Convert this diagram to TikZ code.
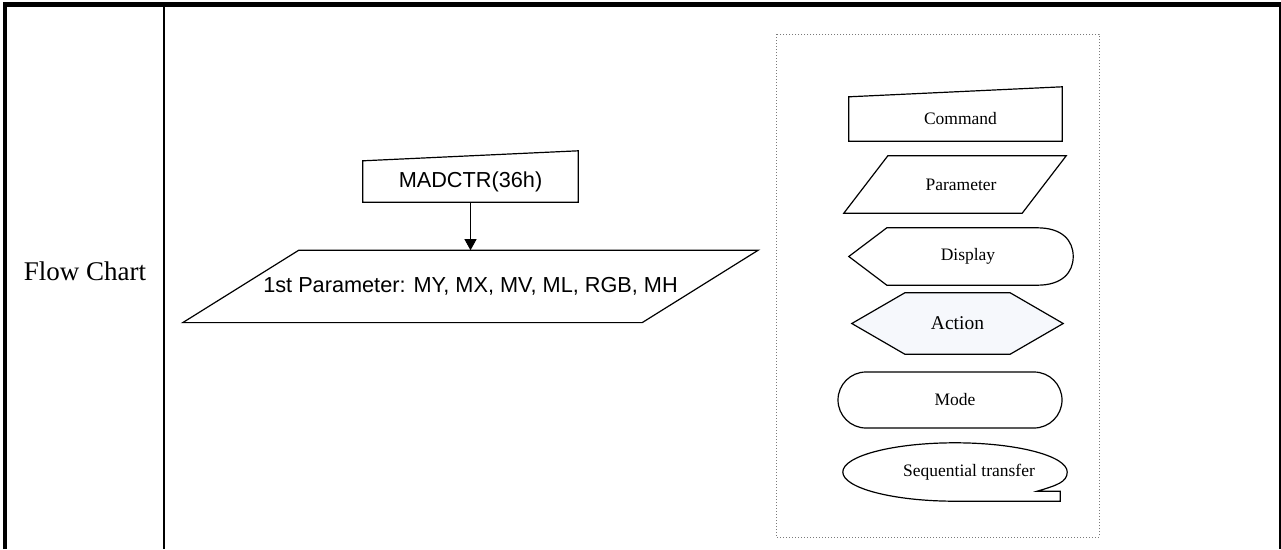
\documentclass[tikz,border=0pt]{standalone}
\usepackage{fontspec}
\setmainfont{Liberation Serif}
\newfontfamily\arialfont{Liberation Sans}
\usetikzlibrary{arrows.meta,positioning,calc,backgrounds}
\definecolor{ChartDots}{HTML}{7A7A7A}
\definecolor{ChartAction}{HTML}{F6F8FC}
\tikzset{
  flow/.style={-{Triangle[length=11pt,width=12pt]}, line width=0.9pt, draw=black},
  textframe/.style={rectangle, draw=none, inner sep=0pt, align=center},
  shapeline/.style={line width=1.2pt, draw=black, line join=miter},
  legendbox/.style={dash pattern=on 1pt off 2pt, line width=1pt, draw=ChartDots},
  cmdtext/.style={textframe, font=\arialfont\fontsize{21.7}{26}\selectfont},
  keytext/.style={textframe, font=\fontsize{17.5}{21}\selectfont},
}

\begin{document}
\begin{tikzpicture}[x=1pt,y=-1pt]
    \useasboundingbox (0,0) rectangle (1281,549);
    % table frame
    \draw[line width=4.5pt] (5,549) |- (1281,4.5);
    \draw[line width=2pt] (1280,4) -- (1280,549);
    \draw[line width=2pt] (164,6) -- (164,549);
    \node[textframe, font=\fontsize{27}{31}\selectfont] (rowlabel) at (85,271) {Flow Chart};
    % flow
    \node[cmdtext, minimum width=215pt, minimum height=41pt] (madctr) at (470.5,181.5) {MADCTR(36h)};
    \node[cmdtext, minimum width=575pt, minimum height=72pt, below=48pt of madctr] (firstpar) {1st Parameter: MY, MX, MV, ML, RGB, MH};
    \draw[shapeline] (madctr.south west) -- (madctr.south east) -- ($(madctr.north east)+(0,-10)$) -- (madctr.north west) -- cycle;
    \draw[shapeline] (firstpar.south west) -- ($(firstpar.south east)+(-116,0)$) -- (firstpar.north east) -- ($(firstpar.north west)+(116,0)$) -- cycle;
    \draw[flow] (madctr.south) -- (firstpar.north);
    % legend
    \draw[legendbox] (776,34) rectangle (1099,537);
    \node[keytext, minimum width=213pt, minimum height=44pt] (command) at (955.5,119) {\hspace*{10pt}Command};
    \node[keytext, minimum width=222pt, minimum height=57pt] (parameter) at (955,184.5) {\hspace*{12pt}Parameter};
    \node[keytext, minimum width=224pt, minimum height=57pt] (display) at (961,256.5) {\hspace*{14pt}Display};
    \node[textframe, font=\fontsize{19.5}{23}\selectfont, minimum width=211pt, minimum height=61pt] (action) at (957.5,323.5) {Action};
    \node[keytext, draw, line width=1.2pt, rounded corners=28pt, minimum width=224pt, minimum height=56pt] (mode) at (950,400) {\hspace*{10pt}Mode};
    \node[keytext, minimum width=224pt, minimum height=58pt] (seq) at (955,472) {\hspace*{28pt}Sequential transfer};
    \draw[shapeline] (command.south west) -- (command.south east) -- ($(command.north east)+(0,-10)$) -- (command.north west) -- cycle;
    \draw[shapeline] (parameter.south west) -- ($(parameter.south east)+(-44,0)$) -- (parameter.north east) -- ($(parameter.north west)+(44,0)$) -- cycle;
    \draw[shapeline] (display.west) -- ($(display.north west)+(38,0)$) -- ($(display.north east)+(-36,0)$)
      .. controls ($(display.north east)+(-11,0)$) and ($(display.east)+(0,-16)$) .. (display.east)
      .. controls ($(display.east)+(0,16)$) and ($(display.south east)+(-11,0)$) .. ($(display.south east)+(-36,0)$)
      -- ($(display.south west)+(38,0)$) -- cycle;
    \draw[shapeline] (seq.east) .. controls ($(seq.east)+(0,-16)$) and ($(seq.north)+(62,0)$) .. (seq.north)
      .. controls ($(seq.north)+(-62,0)$) and ($(seq.west)+(0,-16)$) .. (seq.west)
      .. controls ($(seq.west)+(0,16)$) and ($(seq.south)+(-62,0)$) .. (seq.south)
      -- ($(seq.south east)+(-7,0)$) -- ($(seq.south east)+(-7,-10)$) -- ($(seq.south east)+(-30,-10)$)
      .. controls ($(seq.south east)+(-10,-16)$) and ($(seq.east)+(0,10)$) .. (seq.east) -- cycle;
    \begin{scope}[on background layer]
      \fill[white] (0,0) rectangle (1281,549);
      \draw[shapeline, fill=ChartAction] (action.west) -- ($(action.north west)+(53,0)$) -- ($(action.north east)+(-53,0)$) -- (action.east) -- ($(action.south east)+(-53,0)$) -- ($(action.south west)+(53,0)$) -- cycle;
    \end{scope}
\end{tikzpicture}
\end{document}
